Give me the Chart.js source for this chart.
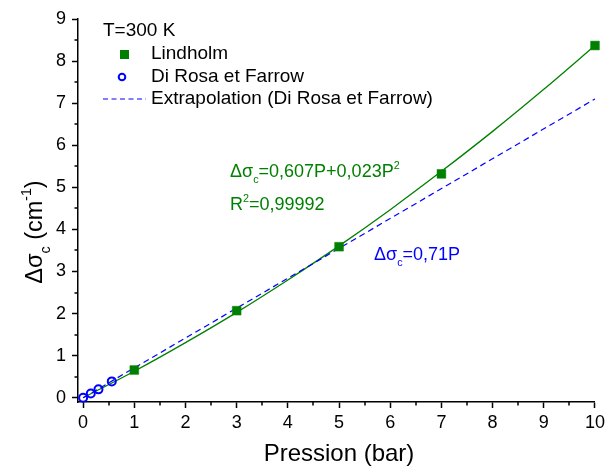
<!DOCTYPE html>
<html>
<head>
<meta charset="utf-8">
<script src="https://cdn.jsdelivr.net/npm/chart.js@4/dist/chart.umd.min.js"></script>
<style>
html,body{margin:0;padding:0;background:#fff;}
#wrap{width:609px;height:471px;}
</style>
</head>
<body>
<div id="wrap"><canvas id="c" width="609" height="471"></canvas></div>
<script>
// ---- data ----
const lindholmP = [1, 3, 5, 7, 10];
const lindholmD = [0.66, 2.07, 3.59, 5.32, 8.37];
const diRosaP = [0, 0.15, 0.3, 0.56];
const diRosaD = [0, 0.1, 0.2, 0.39];
const fitP = [0, 1, 2, 3, 4, 5, 6, 7, 8, 9, 10];
const fitD = [0, 0.63, 1.31, 2.03, 2.80, 3.61, 4.47, 5.38, 6.33, 7.33, 8.37];
const extraP = [0, 10];
const extraD = [0, 7.1];
const xTicks = [0, 1, 2, 3, 4, 5, 6, 7, 8, 9, 10];
const yTicks = [0, 1, 2, 3, 4, 5, 6, 7, 8, 9];
const xMinor = [0.5, 1.5, 2.5, 3.5, 4.5, 5.5, 6.5, 7.5, 8.5, 9.5];
const yMinor = [0.5, 1.5, 2.5, 3.5, 4.5, 5.5, 6.5, 7.5, 8.5];

const GREEN = '#008000';
const BLUE = '#0000ff';
const FONT = '"Liberation Sans", Arial, sans-serif';

const pts = (xs, ys) => xs.map((x, i) => ({x: x, y: ys[i]}));

function richWidth(ctx, segs, size) {
  let w = 0;
  for (const s of segs) {
    const fs = (s.sub || s.sup) ? size * 0.6 : size;
    ctx.font = fs + 'px ' + FONT;
    w += ctx.measureText(s.t).width;
  }
  return w;
}
function drawRich(ctx, segs, x, y, size, color, align) {
  ctx.save();
  ctx.fillStyle = color;
  ctx.textBaseline = 'alphabetic';
  ctx.textAlign = 'left';
  let cx = x;
  if (align === 'center') cx = x - richWidth(ctx, segs, size) / 2;
  for (const s of segs) {
    const fs = (s.sub || s.sup) ? size * 0.6 : size;
    ctx.font = fs + 'px ' + FONT;
    let dy = 0;
    if (s.sub) dy = size * 0.33;
    if (s.sup) dy = -size * 0.45;
    ctx.fillText(s.t, cx, y + dy);
    cx += ctx.measureText(s.t).width;
  }
  ctx.restore();
}

const decor = {
  id: 'decor',
  afterDraw(chart) {
    const ctx = chart.ctx;
    const xs = chart.scales.x, ys = chart.scales.y;
    const area = chart.chartArea;
    ctx.save();
    ctx.strokeStyle = '#000';
    ctx.lineWidth = 1.5;
    ctx.beginPath();
    for (const v of xMinor) {
      const px = Math.round(xs.getPixelForValue(v));
      ctx.moveTo(px, area.bottom); ctx.lineTo(px, area.bottom + 3.5);
    }
    for (const v of yMinor) {
      const py = Math.round(ys.getPixelForValue(v));
      ctx.moveTo(area.left, py); ctx.lineTo(area.left - 3.5, py);
    }
    ctx.stroke();
    ctx.restore();

    // axis titles
    drawRich(ctx, [{t: 'Pression (bar)'}], 339, 461, 24, '#000', 'center');
    ctx.save();
    ctx.translate(42, 232);
    ctx.rotate(-Math.PI / 2);
    drawRich(ctx, [{t: 'Δσ'}, {t: 'c', sub: true}, {t: ' (cm'}, {t: '-1', sup: true}, {t: ')'}], 0, 0, 23.5, '#000', 'center');
    ctx.restore();

    // legend
    ctx.save();
    ctx.fillStyle = '#000';
    ctx.font = '19px ' + FONT;
    ctx.textBaseline = 'middle';
    ctx.fillText('T=300 K', 103, 31);
    ctx.fillText(chart.data.datasets[0].label, 151, 54);
    ctx.fillText(chart.data.datasets[1].label, 151, 77);
    ctx.fillText(chart.data.datasets[3].label, 151, 99);
    ctx.fillStyle = GREEN;
    ctx.fillRect(120, 50, 9, 9);
    ctx.strokeStyle = BLUE;
    ctx.lineWidth = 2;
    ctx.beginPath();
    ctx.arc(122, 77, 3.3, 0, Math.PI * 2);
    ctx.stroke();
    ctx.lineWidth = 1.2;
    ctx.setLineDash([5, 3.5]);
    ctx.beginPath();
    ctx.moveTo(103, 99); ctx.lineTo(146, 99);
    ctx.stroke();
    ctx.restore();

    // annotations
    drawRich(ctx, [{t: 'Δσ'}, {t: 'c', sub: true}, {t: '=0,607P+0,023P'}, {t: '2', sup: true}], 230, 177, 18, GREEN);
    drawRich(ctx, [{t: 'R'}, {t: '2', sup: true}, {t: '=0,99992'}], 230, 210, 18, GREEN);
    drawRich(ctx, [{t: 'Δσ'}, {t: 'c', sub: true}, {t: '=0,71P'}], 374, 260, 18, BLUE);
  }
};

new Chart(document.getElementById('c'), {
  type: 'scatter',
  data: {
    datasets: [
      {label: 'Lindholm', data: pts(lindholmP, lindholmD), pointStyle: 'rect', pointRadius: 6.2,
       backgroundColor: GREEN, borderColor: GREEN, borderWidth: 0.5, showLine: false, order: 0, clip: false},
      {label: 'Di Rosa et Farrow', data: pts(diRosaP, diRosaD), pointStyle: 'circle', pointRadius: 4,
       backgroundColor: 'rgba(255,255,255,0)', borderColor: BLUE, borderWidth: 2, showLine: false, order: 0, clip: false},
      {label: 'Fit', data: pts(fitP, fitD), showLine: true, pointRadius: 0, borderColor: GREEN,
       borderWidth: 1.3, cubicInterpolationMode: 'monotone', order: 2, clip: false},
      {label: 'Extrapolation (Di Rosa et Farrow)', data: pts(extraP, extraD), showLine: true, pointRadius: 0,
       borderColor: BLUE, borderWidth: 1.2, borderDash: [6, 4], order: 1, clip: false}
    ]
  },
  options: {
    responsive: false,
    animation: false,
    events: [],
    layout: {padding: {top: 19, right: 9, left: 0, bottom: 0}},
    plugins: {legend: {display: false}, tooltip: {enabled: false}},
    scales: {
      x: {
        type: 'linear', min: -0.1, max: 10,
        afterBuildTicks: s => { s.ticks = xTicks.map(v => ({value: v})); },
        afterFit: s => { s.height = 69; },
        grid: {drawOnChartArea: false, drawTicks: true, tickLength: 6, tickColor: '#000', tickWidth: 1.5},
        border: {display: true, color: '#000', width: 1.5},
        ticks: {color: '#000', font: {family: FONT, size: 18}, padding: 4, maxRotation: 0, autoSkip: false}
      },
      y: {
        type: 'linear', min: -0.1, max: 9,
        afterBuildTicks: s => { s.ticks = yTicks.map(v => ({value: v})); },
        afterFit: s => { s.width = 78; },
        grid: {drawOnChartArea: false, drawTicks: true, tickLength: 6, tickColor: '#000', tickWidth: 1.5},
        border: {display: true, color: '#000', width: 1.5},
        ticks: {color: '#000', font: {family: FONT, size: 18}, padding: 6, autoSkip: false}
      }
    }
  },
  plugins: [decor]
});
</script>
</body>
</html>
